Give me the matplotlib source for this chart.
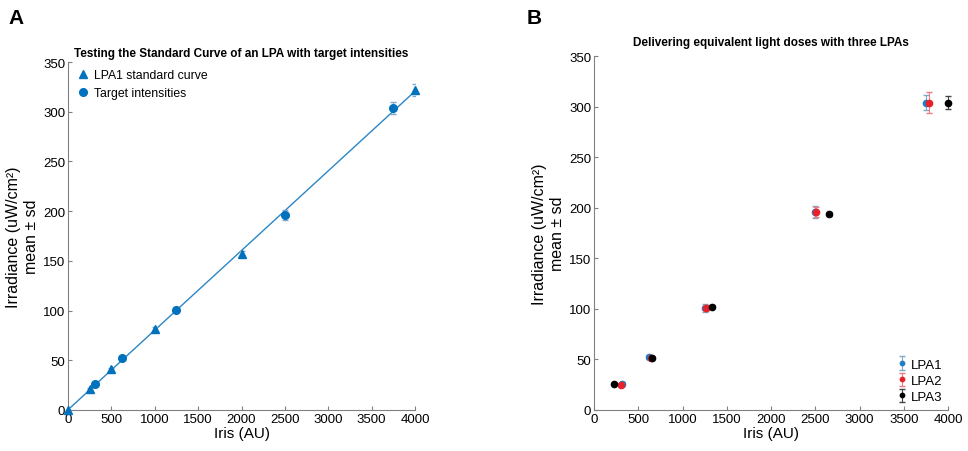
import matplotlib
matplotlib.use("Agg")
import matplotlib.pyplot as plt
import numpy as np

plt.rcParams['font.family'] = ['Liberation Sans', 'DejaVu Sans']

# Panel A data
std_x = [0, 250, 500, 1000, 2000, 4000]
std_y = [0, 21, 41, 81, 157, 322]
std_err = [0.5, 1.5, 1.5, 2, 3, 6]
tgt_x = [312.5, 625, 1250, 2500, 3750]
tgt_y = [26, 52, 101, 196, 304]
tgt_err = [1.5, 2, 2.5, 5, 6]

# Panel B data
lpa1_x = [312.5, 625, 1250, 2500, 3750]
lpa1_y = [26, 52, 101, 196, 304]
lpa1_err = [2, 2, 4, 6, 7]
lpa2_x = [300, 640, 1260, 2510, 3790]
lpa2_y = [25, 51, 101, 196, 304]
lpa2_err = [2, 1.5, 3, 5, 10]
lpa3_x = [225, 655, 1330, 2660, 4000]
lpa3_y = [26, 51, 102, 194, 304]
lpa3_err = [1, 1, 1.5, 2, 6]

xticks = [0, 500, 1000, 1500, 2000, 2500, 3000, 3500, 4000]
yticks = [0, 50, 100, 150, 200, 250, 300, 350]

blue = '#0072BD'
ebblue = '#7fa8c9'
red = '#e8202a'
gray = '#808080'

fig = plt.figure(figsize=(9.68, 4.52), dpi=100)
W, H = 968, 452

def style(ax):
    for s in ['top', 'right']:
        ax.spines[s].set_visible(False)
    for s in ['left', 'bottom']:
        ax.spines[s].set_color(gray)
        ax.spines[s].set_linewidth(0.8)
    ax.tick_params(direction='in', length=3, color=gray, labelsize=9.5, pad=2)
    ax.set_xlim(0, 4000)
    ax.set_ylim(0, 350)
    ax.set_xticks(xticks)
    ax.set_yticks(yticks)
    ax.set_xlabel('Iris (AU)', fontsize=11, labelpad=1)
    ax.set_ylabel('Irradiance (uW/cm²)\nmean ± sd', fontsize=11.5, labelpad=3)

axA = fig.add_axes([68/W, 1-411/H, (415-68)/W, (411-63)/H])
style(axA)
coef = np.polyfit(std_x, std_y, 1)
xl = np.array([0, 4000])
axA.plot(xl, np.polyval(coef, xl), color='#2b86c5', lw=1.0, zorder=2)
axA.errorbar(std_x, std_y, yerr=std_err, fmt='none', ecolor=ebblue, elinewidth=0.8, capsize=2.5, zorder=3)
axA.errorbar(tgt_x, tgt_y, yerr=tgt_err, fmt='none', ecolor=ebblue, elinewidth=0.8, capsize=2.5, zorder=3)
axA.plot(std_x, std_y, '^', color=blue, ms=5.5, ls='none', label='LPA1 standard curve', zorder=4, clip_on=False)
axA.plot(tgt_x, tgt_y, 'o', color=blue, ms=5.5, ls='none', label='Target intensities', zorder=4)
axA.legend(loc='upper left', frameon=False, fontsize=8.8, handletextpad=0.3, borderaxespad=0.2,
           labelspacing=0.45, handlelength=1.2, bbox_to_anchor=(0.0, 1.0))
axA.set_title('Testing the Standard Curve of an LPA with target intensities', fontsize=8.5,
              fontweight='bold', pad=4)

axB = fig.add_axes([594/W, 1-411/H, (948-594)/W, (411-57)/H])
style(axB)
axB.errorbar(lpa1_x, lpa1_y, yerr=lpa1_err, fmt='o', color='#1f7fc4', ecolor=ebblue, ms=4.5,
             elinewidth=0.8, capsize=2.5, label='LPA1', zorder=3)
axB.errorbar(lpa2_x, lpa2_y, yerr=lpa2_err, fmt='o', color=red, ecolor='#f07a80', ms=4.5,
             elinewidth=0.8, capsize=2.5, label='LPA2', zorder=4)
axB.errorbar(lpa3_x, lpa3_y, yerr=lpa3_err, fmt='o', color='black', ecolor='#444444', ms=4.5,
             elinewidth=0.8, capsize=2.5, label='LPA3', zorder=5, clip_on=False)
hs, ls = axB.get_legend_handles_labels()
legB = axB.legend(hs, ls, loc='lower right', frameon=False, fontsize=9.5, handletextpad=0.4,
                  borderaxespad=0.0, labelspacing=0.3, handlelength=0.6, markerscale=0.7,
                  bbox_to_anchor=(1.0, 0.005))
axB.set_title('Delivering equivalent light doses with three LPAs', fontsize=8.5,
              fontweight='bold', pad=8)

fig.text(8/W, 1-18/H, 'A', fontsize=15, fontweight='bold', va='center', ha='left')
fig.text(527/W, 1-18/H, 'B', fontsize=15, fontweight='bold', va='center', ha='left')

fig.savefig('out.png', dpi=100)
